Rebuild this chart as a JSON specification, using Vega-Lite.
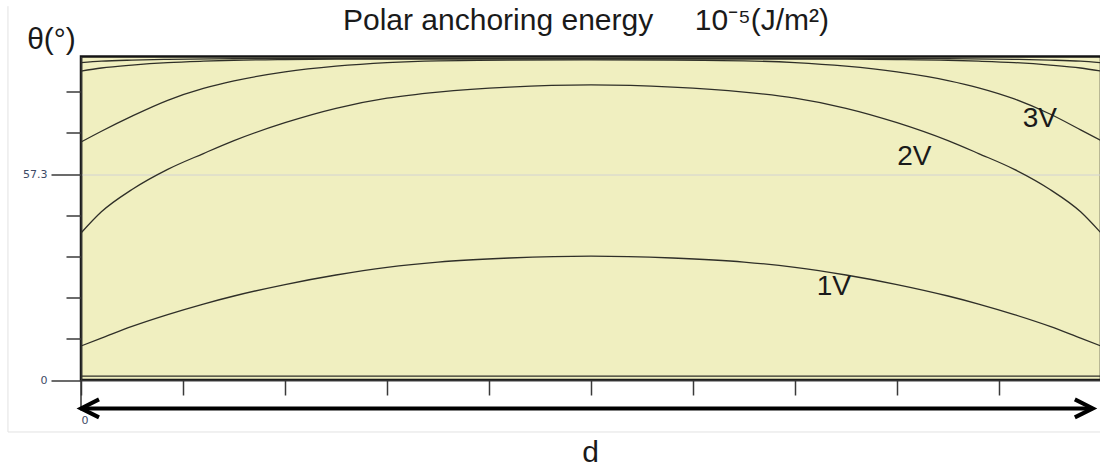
{
  "$schema": "https://vega.github.io/schema/vega-lite/v6.json",
  "width": 1020,
  "height": 323.5,
  "autosize": {"type": "none"},
  "padding": {"left": 81, "top": 56.5, "right": 0, "bottom": 90},
  "background": "white",
  "title": {"text": "Polar anchoring energy\u00a0\u00a0\u00a0\u00a0\u00a010⁻⁵(J/m²)", "anchor": "start", "frame": "group", "dx": 262, "dy": 27, "offset": -27, "baseline": "alphabetic", "fontSize": 30, "font": "Liberation Sans", "fontWeight": "normal", "color": "#1a1a1a"},
  "config": {
    "view": {"fill": "#F0EFC0", "stroke": "#141414", "strokeWidth": 2.5},
    "axis": {"labelFont": "DejaVu Sans", "labelFontSize": 11, "labelColor": "#3d4a66", "titleFont": "Liberation Sans", "titleFontWeight": "normal", "titleColor": "#1a1a1a", "domainColor": "#333333", "domainWidth": 1.5, "tickColor": "#3a3a3a", "tickWidth": 1.5}
  },
  "datasets": {
    "curves": [
      {"v": "0V", "x": 0, "theta": 1.1}, {"v": "0V", "x": 10, "theta": 1.1},
      {"v": "1V", "x": 0, "theta": 9.46}, {"v": "1V", "x": 0.2, "theta": 11.63}, {"v": "1V", "x": 0.5, "theta": 14.91}, {"v": "1V", "x": 0.85, "theta": 18.2}, {"v": "1V", "x": 1.2, "theta": 21.14}, {"v": "1V", "x": 1.5, "theta": 23.37}, {"v": "1V", "x": 2.0, "theta": 26.56}, {"v": "1V", "x": 2.5, "theta": 29.21}, {"v": "1V", "x": 3.0, "theta": 31.35}, {"v": "1V", "x": 3.5, "theta": 32.82}, {"v": "1V", "x": 4.2, "theta": 33.94}, {"v": "1V", "x": 5.0, "theta": 34.49},
      {"v": "1V", "x": 5.8, "theta": 33.94}, {"v": "1V", "x": 6.5, "theta": 32.82}, {"v": "1V", "x": 7.0, "theta": 31.35}, {"v": "1V", "x": 7.5, "theta": 29.21}, {"v": "1V", "x": 8.0, "theta": 26.56}, {"v": "1V", "x": 8.5, "theta": 23.37}, {"v": "1V", "x": 8.8, "theta": 21.14}, {"v": "1V", "x": 9.15, "theta": 18.2}, {"v": "1V", "x": 9.5, "theta": 14.91}, {"v": "1V", "x": 9.8, "theta": 11.63}, {"v": "1V", "x": 10, "theta": 9.46},
      {"v": "2V", "x": 0, "theta": 40.9}, {"v": "2V", "x": 0.2, "theta": 46.8}, {"v": "2V", "x": 0.5, "theta": 53.0}, {"v": "2V", "x": 0.85, "theta": 58.6}, {"v": "2V", "x": 1.2, "theta": 63.0}, {"v": "2V", "x": 1.5, "theta": 66.6}, {"v": "2V", "x": 2.0, "theta": 71.6}, {"v": "2V", "x": 2.5, "theta": 75.6}, {"v": "2V", "x": 3.0, "theta": 78.4}, {"v": "2V", "x": 3.5, "theta": 80.1}, {"v": "2V", "x": 4.2, "theta": 81.5}, {"v": "2V", "x": 5.0, "theta": 82.1},
      {"v": "2V", "x": 5.8, "theta": 81.5}, {"v": "2V", "x": 6.5, "theta": 80.1}, {"v": "2V", "x": 7.0, "theta": 78.4}, {"v": "2V", "x": 7.5, "theta": 75.6}, {"v": "2V", "x": 8.0, "theta": 71.6}, {"v": "2V", "x": 8.5, "theta": 66.6}, {"v": "2V", "x": 8.8, "theta": 63.0}, {"v": "2V", "x": 9.15, "theta": 58.6}, {"v": "2V", "x": 9.5, "theta": 53.0}, {"v": "2V", "x": 9.8, "theta": 46.8}, {"v": "2V", "x": 10, "theta": 40.9},
      {"v": "3V", "x": 0, "theta": 66.2}, {"v": "3V", "x": 0.2, "theta": 69.2}, {"v": "3V", "x": 0.5, "theta": 73.4}, {"v": "3V", "x": 0.85, "theta": 77.8}, {"v": "3V", "x": 1.2, "theta": 81.1}, {"v": "3V", "x": 1.5, "theta": 83.2}, {"v": "3V", "x": 2.0, "theta": 85.7}, {"v": "3V", "x": 2.5, "theta": 87.3}, {"v": "3V", "x": 3.0, "theta": 88.3}, {"v": "3V", "x": 3.5, "theta": 88.8}, {"v": "3V", "x": 4.2, "theta": 89.0}, {"v": "3V", "x": 5.0, "theta": 89.05},
      {"v": "3V", "x": 5.8, "theta": 89.0}, {"v": "3V", "x": 6.5, "theta": 88.8}, {"v": "3V", "x": 7.0, "theta": 88.3}, {"v": "3V", "x": 7.5, "theta": 87.3}, {"v": "3V", "x": 8.0, "theta": 85.7}, {"v": "3V", "x": 8.5, "theta": 83.3}, {"v": "3V", "x": 8.8, "theta": 81.3}, {"v": "3V", "x": 9.15, "theta": 78.2}, {"v": "3V", "x": 9.5, "theta": 74.0}, {"v": "3V", "x": 9.8, "theta": 69.6}, {"v": "3V", "x": 10, "theta": 66.6},
      {"v": "4V", "x": 0, "theta": 85.95}, {"v": "4V", "x": 0.2, "theta": 86.8}, {"v": "4V", "x": 0.5, "theta": 87.62}, {"v": "4V", "x": 0.85, "theta": 88.3}, {"v": "4V", "x": 1.2, "theta": 88.7}, {"v": "4V", "x": 1.5, "theta": 88.95}, {"v": "4V", "x": 2.0, "theta": 89.15}, {"v": "4V", "x": 2.5, "theta": 89.25}, {"v": "4V", "x": 5.0, "theta": 89.3},
      {"v": "4V", "x": 7.5, "theta": 89.25}, {"v": "4V", "x": 8.0, "theta": 89.15}, {"v": "4V", "x": 8.5, "theta": 88.95}, {"v": "4V", "x": 8.8, "theta": 88.7}, {"v": "4V", "x": 9.15, "theta": 88.3}, {"v": "4V", "x": 9.5, "theta": 87.62}, {"v": "4V", "x": 9.8, "theta": 86.8}, {"v": "4V", "x": 10, "theta": 85.95},
      {"v": "5V", "x": 0, "theta": 88.3}, {"v": "5V", "x": 0.2, "theta": 88.7}, {"v": "5V", "x": 0.5, "theta": 89.0}, {"v": "5V", "x": 0.85, "theta": 89.2}, {"v": "5V", "x": 1.5, "theta": 89.4}, {"v": "5V", "x": 5.0, "theta": 89.5},
      {"v": "5V", "x": 8.5, "theta": 89.4}, {"v": "5V", "x": 9.15, "theta": 89.2}, {"v": "5V", "x": 9.5, "theta": 89.0}, {"v": "5V", "x": 9.8, "theta": 88.7}, {"v": "5V", "x": 10, "theta": 88.3}
    ],
    "labels": [
      {"label": "1V", "x": 7.38, "theta": 25.9},
      {"label": "2V", "x": 8.17, "theta": 62.0},
      {"label": "3V", "x": 9.4, "theta": 72.5}
    ],
    "one": [{}]
  },
  "layer": [
    {
      "data": {"name": "curves"},
      "mark": {"type": "line", "interpolate": "monotone", "stroke": "#2f2f28", "strokeWidth": 1.3},
      "encoding": {
        "x": {"field": "x", "type": "quantitative", "scale": {"domain": [0, 10], "nice": false, "zero": false},
          "axis": {"values": [0, 1, 2, 3, 4, 5, 6, 7, 8, 9, 10], "labelExpr": "datum.value == 0 ? '0' : ''", "tickSize": 15, "labelPadding": 19, "grid": false, "title": "d", "titleFontSize": 30, "titleX": 509, "titleY": 72, "titleAlign": "center", "titleBaseline": "middle"}},
        "y": {"field": "theta", "type": "quantitative", "scale": {"domain": [0, 90], "nice": false, "zero": false},
          "axis": {"values": [0, 5.7296, 11.4592, 17.1887, 22.9183, 28.6479, 34.3775, 40.107, 45.8366, 51.5662, 57.2958, 63.0254, 68.7549, 74.4845, 80.2141, 85.9437],
            "labelExpr": "datum.value == 0 ? '0' : (abs(datum.value - 57.2958) < 0.01 ? '57.3' : '')",
            "tickSize": {"condition": {"test": "datum.value == 0 || abs(datum.value - 57.2958) < 0.01", "value": 30}, "value": 15},
            "labelPadding": 4,
            "grid": true, "gridColor": "#d2d2d2", "gridWidth": 1,
            "gridOpacity": {"condition": {"test": "abs(datum.value - 57.2958) < 0.01", "value": 1}, "value": 0},
            "title": "θ(°)", "titleAngle": 0, "titleFontSize": 30, "titleX": -30, "titleY": -17, "titleAlign": "center", "titleBaseline": "middle"}},
        "detail": {"field": "v", "type": "nominal"}
      }
    },
    {
      "data": {"name": "one"},
      "mark": {"type": "rule", "stroke": "#333333", "strokeWidth": 1.5, "clip": false},
      "encoding": {"x": {"datum": 0}, "y": {"datum": 0}, "y2": {"datum": -8.5}}
    },
    {
      "data": {"name": "one"},
      "mark": {"type": "rule", "stroke": "#000000", "strokeWidth": 4, "clip": false},
      "encoding": {"x": {"datum": 0.03}, "x2": {"datum": 9.89}, "y": {"datum": -7.9}}
    },
    {
      "data": {"name": "one"},
      "mark": {"type": "point", "shape": "M2,-1L0,0L2,1", "size": 324, "filled": false, "stroke": "#000000", "strokeWidth": 4, "opacity": 1, "clip": false},
      "encoding": {"x": {"datum": 0}, "y": {"datum": -7.9}}
    },
    {
      "data": {"name": "one"},
      "mark": {"type": "point", "shape": "M-2,-1L0,0L-2,1", "size": 324, "filled": false, "stroke": "#000000", "strokeWidth": 4, "opacity": 1, "clip": false},
      "encoding": {"x": {"datum": 9.92}, "y": {"datum": -7.9}}
    },
    {
      "data": {"name": "one"},
      "mark": {"type": "rule", "stroke": "#e2e2e2", "strokeWidth": 1, "clip": false},
      "encoding": {"x": {"datum": -0.716}, "y": {"datum": 104}, "y2": {"datum": -14.46}}
    },
    {
      "data": {"name": "one"},
      "mark": {"type": "rule", "stroke": "#e2e2e2", "strokeWidth": 1, "clip": false},
      "encoding": {"x": {"datum": -0.716}, "x2": {"datum": 10}, "y": {"datum": -14.46}}
    },
    {
      "data": {"name": "labels"},
      "mark": {"type": "text", "font": "Liberation Sans", "fontSize": 28, "color": "#1a1a1a", "align": "center", "baseline": "middle"},
      "encoding": {"x": {"field": "x", "type": "quantitative"}, "y": {"field": "theta", "type": "quantitative"}, "text": {"field": "label"}}
    }
  ]
}
